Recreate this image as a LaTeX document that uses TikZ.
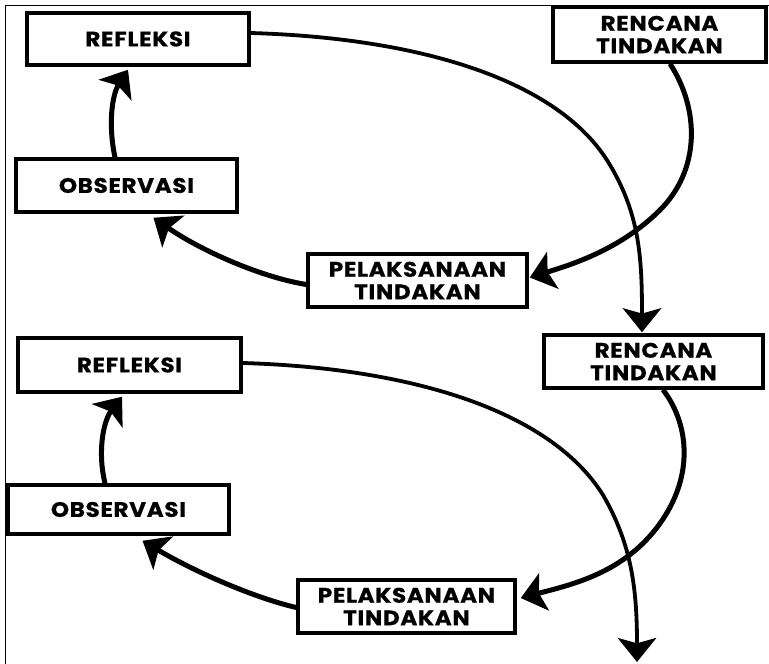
\documentclass[tikz,border=0pt]{standalone}
\usepackage{fontspec}
\newfontfamily\boxfont{Poppins}[FakeStretch=1.1,LetterSpace=3,FakeBold=0.6]
\usetikzlibrary{arrows.meta,calc}
\begin{document}
\begin{tikzpicture}[x=1pt,y=-1pt,
  box/.style={draw,line width=3.5pt,inner sep=0pt,align=center,
    font=\boxfont\bfseries\fontsize{21}{22.5}\selectfont},
  bighead/.tip={Stealth[length=24pt,width'=0pt 1.6,inset'=0pt 0.22]},
  thickarrow/.style={line width=5pt,-bighead},
  longarrow/.style={line width=3.8pt,-bighead}]
\useasboundingbox (0,0) rectangle (769,664);
\draw[line width=1pt] (5,664) -- (5,5) -- (769,5);
% top cycle
\node[box,minimum width=222pt,minimum height=52pt] (refl1) at (138,39) {REFLEKSI};
\node[box,minimum width=221pt,minimum height=53pt] (obs1) at (126.5,185.5) {OBSERVASI};
\node[box,minimum width=219pt,minimum height=53pt] (pel1) at (417.5,280.5) {PELAKSANAAN\\TINDAKAN};
\node[box,minimum width=213pt,minimum height=55pt] (ren1) at (659.5,34.5) {RENCANA\\TINDAKAN};
% bottom cycle
\node[box,minimum width=223pt,minimum height=54pt] (refl2) at (129.5,365) {REFLEKSI};
\node[box,minimum width=221pt,minimum height=49pt] (obs2) at (118.5,509.5) {OBSERVASI};
\node[box,minimum width=217pt,minimum height=53pt] (pel2) at (406.5,606.5) {PELAKSANAAN\\TINDAKAN};
\node[box,minimum width=219pt,minimum height=53pt] (ren2) at (653.5,361.5) {RENCANA\\TINDAKAN};
\coordinate (end) at (637,662);
% top arrows
\draw[thickarrow] ($(obs1.north)+(-11.5,0)$) .. controls (108,125) and (112,95) .. ($(refl1.south)+(-10,3)$);
\draw[thickarrow] ($(pel1.west)+(0,4)$) .. controls (260,277) and (200,250) .. ($(obs1.south)+(27,4)$);
\draw[thickarrow] ($(ren1.south)+(10.5,0)$) .. controls (700,110) and (700,170) .. (660,210) .. controls (620,250) and (570,265) .. ($(pel1.east)+(1,-3)$);
\draw[longarrow] ($(refl1.east)+(0,-6)$) .. controls (420,38) and (560,80) .. (610,165) .. controls (640,215) and (642,260) .. ($(ren2.north)+(-11.5,-1)$);
% bottom arrows
\draw[thickarrow] ($(obs2.north)+(-13.5,0)$) .. controls (97,450) and (104,420) .. ($(refl2.south)+(-7.5,3)$);
\draw[thickarrow] ($(pel2.west)+(0,1)$) .. controls (255,598) and (195,572) .. ($(obs2.south)+(24,5)$);
\draw[thickarrow] ($(ren2.south)+(9.5,0)$) .. controls (690,425) and (695,480) .. (655,530) .. controls (620,574) and (570,585) .. ($(pel2.east)+(4,-8.5)$);
\draw[longarrow] ($(refl2.east)+(0,-2)$) .. controls (410,368) and (550,410) .. (603,495) .. controls (632,545) and (637,590) .. (end);
\end{tikzpicture}
\end{document}
